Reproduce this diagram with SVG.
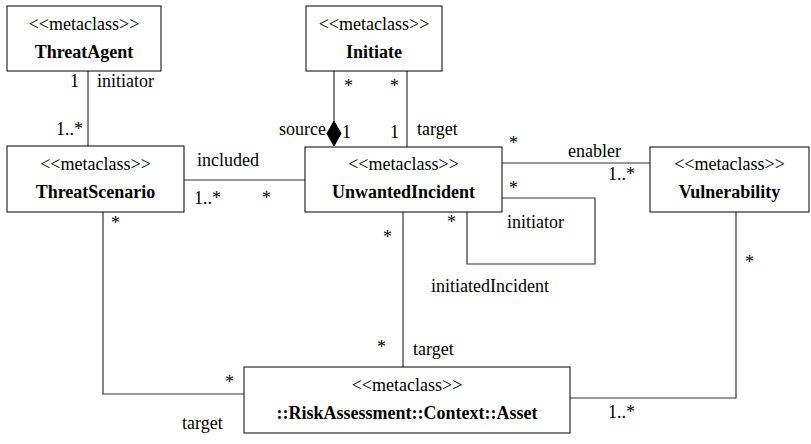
<svg xmlns="http://www.w3.org/2000/svg" width="811" height="444" viewBox="0 0 811 444" font-family="'Liberation Serif', 'Times New Roman', 'DejaVu Serif', serif" font-size="18">
<style>
.b{font-weight:bold}
.m{text-anchor:middle}
.e{text-anchor:end}
.box{fill:#fff;stroke:#000;stroke-width:1}
.ln{fill:none;stroke:#333;stroke-width:1.2}
</style>
<rect width="811" height="444" fill="#fff"/>
<g id="connectors">
<path class="ln" d="M88 71V146"/>
<path class="ln" d="M334 71V121"/>
<polygon points="334,121 341,133.5 334,146 327,133.5" fill="#000" stroke="#000"/>
<path class="ln" d="M407 71V147"/>
<path class="ln" d="M184 180H305"/>
<path class="ln" d="M502 163H650"/>
<path class="ln" d="M502 198H595V264H467V212"/>
<path class="ln" d="M403 212V367"/>
<path class="ln" d="M103 212V394H244"/>
<path class="ln" d="M736 212V398H570"/>
</g>
<g id="labels">
<text class="e" x="79" y="87">1</text>
<text x="97" y="87">initiator</text>
<text class="e" x="83" y="135">1..*</text>
<text class="e" x="326" y="135">source</text>
<text x="342" y="138">1</text>
<text x="390" y="138">1</text>
<text x="417" y="135">target</text>
<text x="344" y="92">*</text>
<text x="390" y="92">*</text>
<text x="197" y="166">included</text>
<text x="194" y="204">1..*</text>
<text x="262" y="204">*</text>
<text x="568" y="157">enabler</text>
<text x="509" y="149">*</text>
<text x="608" y="180">1..*</text>
<text x="509" y="194">*</text>
<text x="447" y="228">*</text>
<text x="507" y="228">initiator</text>
<text x="431" y="292">initiatedIncident</text>
<text x="383" y="243">*</text>
<text x="377" y="353">*</text>
<text x="413" y="355">target</text>
<text x="111" y="229">*</text>
<text x="225" y="388">*</text>
<text x="182" y="429">target</text>
<text x="745" y="268">*</text>
<text x="608" y="418">1..*</text>
</g>
<g id="ThreatAgent">
<rect class="box" x="7" y="6" width="154" height="65"/>
<text class="m" x="84" y="30">&lt;&lt;metaclass&gt;&gt;</text>
<text class="m b" x="84" y="58">ThreatAgent</text>
</g>
<g id="Initiate">
<rect class="box" x="306" y="6" width="136" height="65"/>
<text class="m" x="374" y="30">&lt;&lt;metaclass&gt;&gt;</text>
<text class="m b" x="374" y="58">Initiate</text>
</g>
<g id="ThreatScenario">
<rect class="box" x="7" y="146" width="177" height="66"/>
<text class="m" x="95.5" y="170">&lt;&lt;metaclass&gt;&gt;</text>
<text class="m b" x="95.5" y="198">ThreatScenario</text>
</g>
<g id="UnwantedIncident">
<rect class="box" x="305" y="147" width="197" height="65"/>
<text class="m" x="403.5" y="170">&lt;&lt;metaclass&gt;&gt;</text>
<text class="m b" x="403.5" y="198">UnwantedIncident</text>
</g>
<g id="Vulnerability">
<rect class="box" x="650" y="147" width="159" height="65"/>
<text class="m" x="729.5" y="170">&lt;&lt;metaclass&gt;&gt;</text>
<text class="m b" x="729.5" y="198">Vulnerability</text>
</g>
<g id="Asset">
<rect class="box" x="244" y="367" width="326" height="66"/>
<text class="m" x="407" y="391">&lt;&lt;metaclass&gt;&gt;</text>
<text class="m b" x="407" y="419">::RiskAssessment::Context::Asset</text>
</g>
</svg>
